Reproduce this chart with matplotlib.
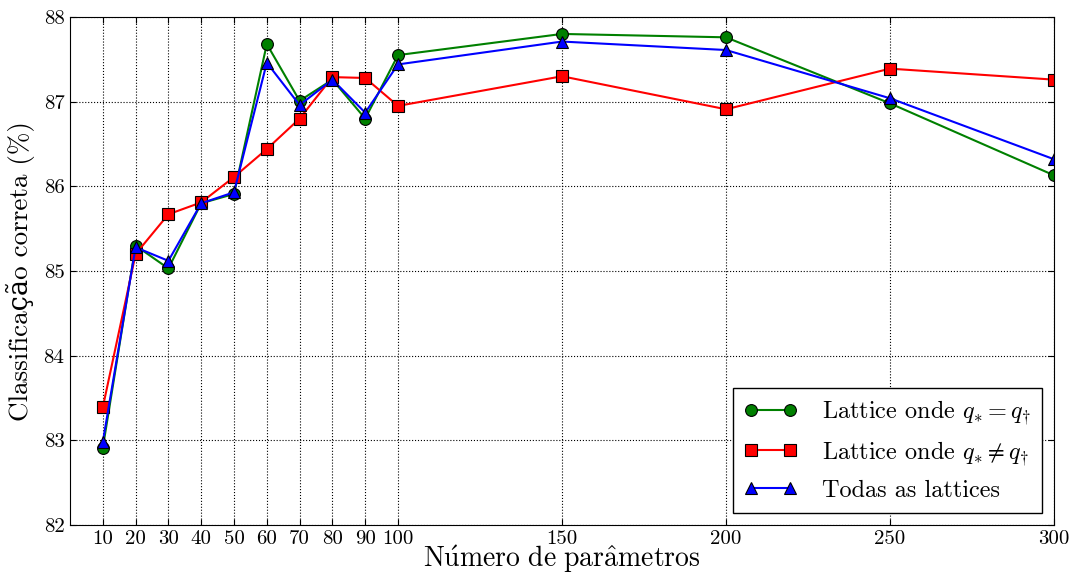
import matplotlib
matplotlib.use("Agg")
import matplotlib.pyplot as plt

x = [10, 20, 30, 40, 50, 60, 70, 80, 90, 100, 150, 200, 250, 300]
igual = [82.91, 85.30, 85.03, 85.80, 85.91, 87.68, 87.01, 87.26, 86.80, 87.55, 87.80, 87.76, 86.98, 86.13]
diferente = [83.39, 85.20, 85.67, 85.81, 86.11, 86.44, 86.80, 87.29, 87.28, 86.95, 87.30, 86.91, 87.39, 87.26]
todas = [82.98, 85.28, 85.12, 85.80, 85.93, 87.46, 86.96, 87.26, 86.87, 87.44, 87.71, 87.61, 87.04, 86.32]
xticks = [10, 20, 30, 40, 50, 60, 70, 80, 90, 100, 150, 200, 250, 300]
yticks = [82, 83, 84, 85, 86, 87, 88]

plt.rcParams['font.family'] = ['cmr10', 'DejaVu Serif']
plt.rcParams['mathtext.fontset'] = 'cm'
plt.rcParams['axes.formatter.use_mathtext'] = True

fig = plt.figure(figsize=(10.75, 5.74), dpi=100)
ax = fig.add_axes([70/1075, 1-525/574, (1054-70)/1075, (525-17)/574])

ax.plot(x, igual, '-o', color='green', lw=1.5, ms=8.5, mec='black', mew=0.8,
        label=r'Lattice onde $q_{*} = q_{\dagger}$')
ax.plot(x, diferente, '-s', color='red', lw=1.5, ms=8.5, mec='black', mew=0.8,
        label=r'Lattice onde $q_{*} \neq q_{\dagger}$')
ax.plot(x, todas, '-^', color='blue', lw=1.5, ms=8.5, mec='black', mew=0.8,
        label='Todas as lattices')

ax.set_xlim(0, 300)
ax.set_ylim(82, 88)
ax.set_xticks(xticks)
ax.set_yticks(yticks)
ax.set_xticklabels([str(t) for t in xticks])
ax.set_yticklabels([str(t) for t in yticks])
ax.tick_params(direction='in', labelsize=15, length=4, top=True, right=True, pad=4)
ax.grid(True, color='black', linestyle=':', linewidth=0.8)
ax.set_xlabel(r'$\mathrm{N\acute{u}mero\ de\ par\hat{a}metros}$', fontsize=20)
ax.xaxis.set_label_coords(0.5, (525 - 567) / 508)
ax.xaxis.label.set_va('baseline')
ax.set_ylabel('Classificação correta (%)', fontsize=19.5)
ax.yaxis.set_label_coords((35 - 70) / 984, 0.5)

leg = ax.legend(loc='lower right', fontsize=17.5, numpoints=2, fancybox=False,
                framealpha=1, edgecolor='black', borderaxespad=0.5, handlelength=2.2,
                borderpad=0.45, handletextpad=1.0)
leg.get_frame().set_linewidth(1.0)

fig.savefig('out.png', dpi=100)
